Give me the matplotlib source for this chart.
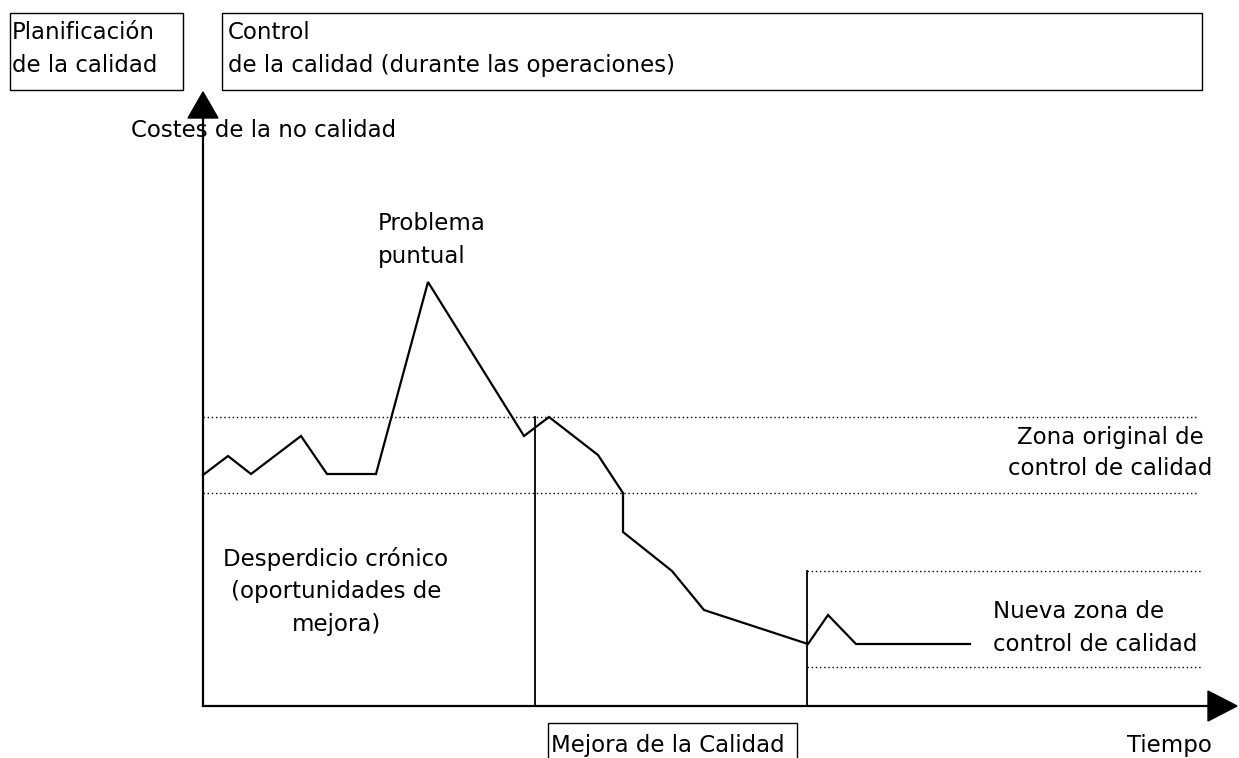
import matplotlib.pyplot as plt
from matplotlib.patches import Rectangle

# chart coords: t = time from axis origin, c = cost above axis
curve_t = [0, 25, 48, 98, 124, 173, 225, 321, 346, 395, 420, 420, 469, 501, 605, 625, 653, 767]
curve_c = [231, 250, 232, 270, 232, 232, 424, 270, 289, 251, 213, 174, 135, 96, 62, 91, 62, 62]

orig_zone = [213, 289]      # original control band
orig_zone_t = [0, 994]
new_zone = [39, 135]        # new control band
new_zone_t = [604, 998]
improve_start = 332         # start of quality improvement
improve_end = 604           # new control starts

plt.rcParams['font.family'] = ['DejaVu Sans']
fs = 16.5
ls = 1.53

fig = plt.figure(figsize=(12.39, 7.58), dpi=100)
ax = fig.add_axes([0, 0, 1, 1])
ax.set_xlim(-203, 1036)
ax.set_ylim(-52, 706)
ax.axis('off')

# axes with arrows
ax.plot([0, 0], [0, 590], color='black', lw=1.6)
ax.plot([0, 1006], [0, 0], color='black', lw=1.6)
ax.fill([-15, 15, 0], [588, 588, 614], color='black')
ax.fill([1005, 1005, 1034], [-15, 15, 0], color='black')

# control bands
for c in orig_zone:
    ax.plot(orig_zone_t, [c, c], color='black', lw=1, ls=(0, (1, 2)))
for c in new_zone:
    ax.plot(new_zone_t, [c, c], color='black', lw=1, ls=(0, (1, 2)))

# phase separators
ax.plot([improve_start, improve_start], [0, orig_zone[1]], color='black', lw=1.3)
ax.plot([improve_end, improve_end], [0, new_zone[1]], color='black', lw=1.3)

ax.plot(curve_t, curve_c, color='black', lw=1.6, solid_joinstyle='miter')

# header boxes
ax.add_patch(Rectangle((-193, 616), 173, 77, fill=False, lw=1, ec='black'))
ax.add_patch(Rectangle((19, 616), 980, 77, fill=False, lw=1, ec='black'))
ax.add_patch(Rectangle((345, -60), 249, 43, fill=False, lw=1, ec='black'))

# va='baseline' on multi-line text anchors the last line
ax.text(-191, 634, 'Planificación\nde la calidad', fontsize=fs, va='baseline', ha='left', linespacing=ls)
ax.text(25, 634, 'Control\nde la calidad (durante las operaciones)', fontsize=fs, va='baseline', ha='left', linespacing=ls)
ax.text(-72, 569, 'Costes de la no calidad', fontsize=fs, va='baseline', ha='left')
ax.text(175, 443, 'Problema\npuntual', fontsize=fs, va='baseline', ha='left', linespacing=ls)
ax.text(907, 231, 'Zona original de\ncontrol de calidad', fontsize=fs, va='baseline', ha='center', linespacing=1.42)
ax.text(133, 75, 'Desperdicio crónico\n(oportunidades de\nmejora)', fontsize=fs, va='baseline', ha='center', linespacing=ls)
ax.text(790, 55, 'Nueva zona de\ncontrol de calidad', fontsize=fs, va='baseline', ha='left', linespacing=ls)
ax.text(348, -46, 'Mejora de la Calidad', fontsize=fs, va='baseline', ha='left')
ax.text(924, -46, 'Tiempo', fontsize=fs, va='baseline', ha='left')

fig.savefig('out.png', dpi=100)
